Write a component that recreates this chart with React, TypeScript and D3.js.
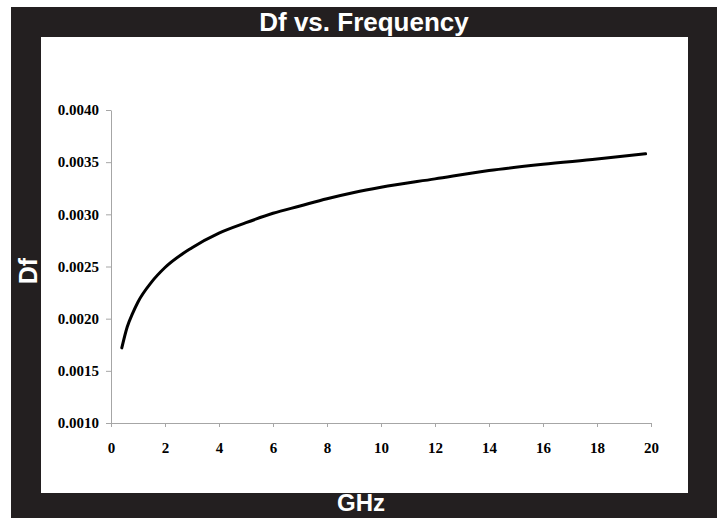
import React, { useEffect, useRef } from "react";
import { select, scaleLinear, line, curveMonotoneX, axisBottom, axisLeft } from "d3";

// frequency in GHz and dissipation factor
const freqGHz: number[] = [0.4, 0.6, 0.8, 1.0, 1.5, 2, 3, 4, 5, 6, 7, 8, 9, 10, 12, 14, 16, 18, 19.8];
const dfValues: number[] = [
  0.00172, 0.00192, 0.00205, 0.00216, 0.00235, 0.00249, 0.00268, 0.00282, 0.00292, 0.00301,
  0.00308, 0.00315, 0.00321, 0.00326, 0.00334, 0.00342, 0.00348, 0.00353, 0.00358,
];
const xTicks: number[] = [0, 2, 4, 6, 8, 10, 12, 14, 16, 18, 20];
const yTicks: number[] = [0.001, 0.0015, 0.002, 0.0025, 0.003, 0.0035, 0.004];

const WIDTH = 720;
const HEIGHT = 518;
const FRAME = "#231f20";
const AXIS = "#a6a6a6";

const App: React.FC = () => {
  const svgRef = useRef<SVGSVGElement>(null);

  useEffect(() => {
    const svg = select(svgRef.current);
    svg.selectAll("*").remove();

    // black frame and white plot area
    svg.append("rect").attr("x", 11).attr("y", 7).attr("width", 706).attr("height", 511).attr("fill", FRAME);
    svg.append("rect").attr("x", 41).attr("y", 37).attr("width", 647).attr("height", 456).attr("fill", "#fff");

    const x = scaleLinear().domain([0, 20]).range([111, 651]);
    const y = scaleLinear().domain([0.001, 0.004]).range([423, 110]);

    const xAxis = svg
      .append("g")
      .attr("transform", `translate(0,${y(0.001)})`)
      .call(axisBottom(x).tickValues(xTicks).tickSize(4).tickSizeOuter(0).tickPadding(15).tickFormat((d) => String(d)));
    const yAxis = svg
      .append("g")
      .attr("transform", `translate(${x(0)},0)`)
      .call(axisLeft(y).tickValues(yTicks).tickSize(5).tickSizeOuter(0).tickPadding(7).tickFormat((d) => (d as number).toFixed(4)));

    [xAxis, yAxis].forEach((g) => {
      g.select(".domain").attr("stroke", AXIS);
      g.selectAll(".tick line").attr("stroke", AXIS);
      g.selectAll(".tick text")
        .attr("fill", "#000")
        .style("font-family", "'Liberation Serif', 'Times New Roman', serif")
        .style("font-weight", "bold")
        .style("font-size", "15px");
    });

    const pts = freqGHz.map((f, i) => [f, dfValues[i]] as [number, number]);
    svg
      .append("path")
      .datum(pts)
      .attr("fill", "none")
      .attr("stroke", "#000")
      .attr("stroke-width", 3)
      .attr("stroke-linecap", "round")
      .attr(
        "d",
        line<[number, number]>()
          .x((d) => x(d[0]))
          .y((d) => y(d[1]))
          .curve(curveMonotoneX)
      );

    const label = (t: string, size: number) =>
      svg
        .append("text")
        .text(t)
        .attr("fill", "#fff")
        .attr("text-anchor", "middle")
        .style("font-family", "'Liberation Sans', Arial, sans-serif")
        .style("font-weight", "bold")
        .style("font-size", `${size}px`);

    label("Df vs. Frequency", 26).attr("x", 364).attr("y", 31);
    label("GHz", 24).attr("x", 361).attr("y", 511);
    label("Df", 25).attr("transform", "translate(37,271) rotate(-90)");
  }, []);

  return (
    <svg
      ref={svgRef}
      width={WIDTH}
      height={HEIGHT}
      style={{ position: "absolute", left: 0, top: 0, background: "#fff" }}
    />
  );
};

export default App;
